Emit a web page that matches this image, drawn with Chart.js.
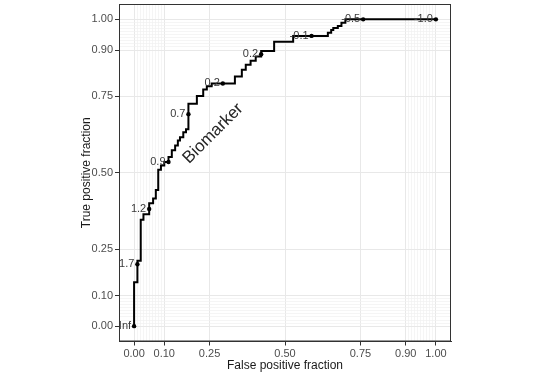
<!DOCTYPE html>
<html lang="en">
<head>
    <meta charset="UTF-8">
    <title>ROC Biomarker</title>
    <style>
        html, body {
            margin: 0;
            padding: 0;
            background-color: #ffffff;
        }
        #rocChart {
            display: block;
        }
    </style>
    <script src="https://cdn.jsdelivr.net/npm/chart.js"></script>
</head>
<body>
    <canvas id="rocChart" width="545" height="378"></canvas>

    <script>
        // ROC curve vertices (false positive fraction / true positive fraction)
        const rocFpr = [
            0, 0, 0.011, 0.011, 0.011, 0.022, 0.022, 0.031, 0.031, 0.050,
            0.050, 0.050, 0.063, 0.063, 0.072, 0.072, 0.080, 0.080, 0.089, 0.089,
            0.100, 0.100, 0.114, 0.114, 0.125, 0.125, 0.136, 0.136, 0.145, 0.145,
            0.152, 0.152, 0.163, 0.163, 0.172, 0.172, 0.180, 0.180, 0.180, 0.208,
            0.208, 0.229, 0.229, 0.241, 0.241, 0.257, 0.257, 0.294, 0.334, 0.334,
            0.357, 0.357, 0.370, 0.370, 0.386, 0.386, 0.403, 0.403, 0.421, 0.421,
            0.421, 0.464, 0.464, 0.527, 0.527, 0.588, 0.642, 0.642, 0.653, 0.653,
            0.660, 0.660, 0.675, 0.675, 0.687, 0.687, 0.700, 0.700, 0.759, 1.0
        ];
        const rocTpr = [
            0, 0.143, 0.143, 0.202, 0.213, 0.213, 0.347, 0.347, 0.365, 0.365,
            0.382, 0.401, 0.401, 0.416, 0.416, 0.444, 0.444, 0.510, 0.510, 0.524,
            0.524, 0.535, 0.535, 0.551, 0.551, 0.573, 0.573, 0.589, 0.589, 0.605,
            0.605, 0.616, 0.616, 0.632, 0.632, 0.642, 0.642, 0.691, 0.725, 0.725,
            0.750, 0.750, 0.771, 0.771, 0.782, 0.782, 0.791, 0.791, 0.791, 0.814,
            0.814, 0.836, 0.836, 0.852, 0.852, 0.865, 0.865, 0.879, 0.879, 0.886,
            0.897, 0.897, 0.927, 0.927, 0.946, 0.946, 0.946, 0.956, 0.956, 0.965,
            0.965, 0.972, 0.972, 0.978, 0.978, 0.989, 0.989, 1.0, 1.0, 1.0
        ];

        // labelled cutoffs
        const cutLabels = ['Inf', '1.7', '1.2', '0.9', '0.7', '0.2', '0.2', '-0.1', '-0.5', '-1.0'];
        const cutFpr = [0, 0.011, 0.050, 0.114, 0.180, 0.294, 0.421, 0.588, 0.759, 1.0];
        const cutTpr = [0, 0.202, 0.382, 0.535, 0.691, 0.791, 0.886, 0.946, 1.0, 1.0];

        const curveName = 'Biomarker';
        const xTitle = 'False positive fraction';
        const yTitle = 'True positive fraction';

        // axis breaks
        const majorBreaks = [0, 0.1, 0.25, 0.5, 0.75, 0.9, 1];
        const minorBreaks = [];
        for (let i = 0; i <= 10; i++) {
            minorBreaks.push(i / 100);
            minorBreaks.push(0.9 + i / 100);
        }
        const allBreaks = Array.from(new Set(majorBreaks.concat(minorBreaks).map(v => +v.toFixed(2)))).sort((a, b) => a - b);

        const isMajor = v => majorBreaks.some(m => Math.abs(m - v) < 1e-6);

        const FONT = "'Liberation Sans', Arial, sans-serif";

        function axisOptions(isX) {
            return {
                type: 'linear',
                min: -0.05,
                max: 1.05,
                afterBuildTicks: scale => {
                    scale.ticks = allBreaks.map(v => ({ value: v }));
                },
                afterFit: scale => {
                    if (isX) {
                        scale.height = 36.5;
                    } else {
                        scale.width = 119;
                    }
                    scale.paddingTop = 0;
                    scale.paddingBottom = 0;
                    scale.paddingLeft = 0;
                    scale.paddingRight = 0;
                },
                ticks: {
                    autoSkip: false,
                    maxRotation: 0,
                    minRotation: 0,
                    padding: isX ? 2 : 2,
                    color: '#4d4d4d',
                    font: { family: FONT, size: 11 },
                    callback: v => isMajor(v) ? v.toFixed(2) : ''
                },
                grid: {
                    color: ctx => (ctx.tick && isMajor(ctx.tick.value)) ? '#e8e8e8' : '#f1f1f1',
                    lineWidth: ctx => (ctx.tick && isMajor(ctx.tick.value)) ? 1 : 0.7,
                    tickColor: ctx => (ctx.tick && isMajor(ctx.tick.value)) ? '#333333' : 'rgba(0,0,0,0)',
                    tickLength: 4,
                    tickWidth: 1
                },
                border: { display: true, color: '#333333', width: 1 },
                title: {
                    display: true,
                    text: isX ? xTitle : yTitle,
                    color: '#1a1a1a',
                    font: { family: FONT, size: 12 },
                    padding: isX ? { top: 0, bottom: 5 } : { top: 79, bottom: 0 }
                }
            };
        }

        // panel border + cutoff labels + curve name
        const decorations = {
            id: 'decorations',
            afterDatasetsDraw(chart) {
                const { ctx, chartArea, scales } = chart;
                ctx.save();
                ctx.strokeStyle = '#333333';
                ctx.lineWidth = 1;
                ctx.strokeRect(chartArea.left + 0.5, chartArea.top + 0.5,
                    chartArea.right - chartArea.left - 1, chartArea.bottom - chartArea.top - 1);

                const meta = chart.getDatasetMeta(1);
                ctx.fillStyle = '#3a3a3a';
                ctx.font = '11px ' + FONT;
                ctx.textAlign = 'right';
                ctx.textBaseline = 'middle';
                meta.data.forEach((pt, i) => {
                    ctx.fillText(cutLabels[i], pt.x - 3, pt.y);
                });

                const cx = scales.x.getPixelForValue(0.262);
                const cy = scales.y.getPixelForValue(0.628);
                ctx.translate(cx, cy);
                ctx.rotate(-Math.PI / 4);
                ctx.font = '17px ' + FONT;
                ctx.fillStyle = '#262626';
                ctx.textAlign = 'center';
                ctx.fillText(curveName, 0, 0);
                ctx.restore();
            }
        };

        new Chart(document.getElementById('rocChart').getContext('2d'), {
            type: 'scatter',
            data: {
                datasets: [
                    {
                        label: curveName,
                        data: rocFpr.map((x, i) => ({ x: x, y: rocTpr[i] })),
                        showLine: true,
                        borderColor: '#000000',
                        borderWidth: 2,
                        pointRadius: 0,
                        tension: 0
                    },
                    {
                        label: 'cutoffs',
                        data: cutFpr.map((x, i) => ({ x: x, y: cutTpr[i] })),
                        showLine: false,
                        backgroundColor: '#000000',
                        borderColor: '#000000',
                        pointRadius: 2.2,
                        borderWidth: 0
                    }
                ]
            },
            options: {
                responsive: false,
                animation: false,
                layout: { padding: { left: 0, right: 94, top: 0, bottom: 0 } },
                plugins: {
                    legend: { display: false },
                    tooltip: { enabled: false }
                },
                scales: {
                    x: axisOptions(true),
                    y: axisOptions(false)
                }
            },
            plugins: [decorations]
        });
    </script>
</body>
</html>
